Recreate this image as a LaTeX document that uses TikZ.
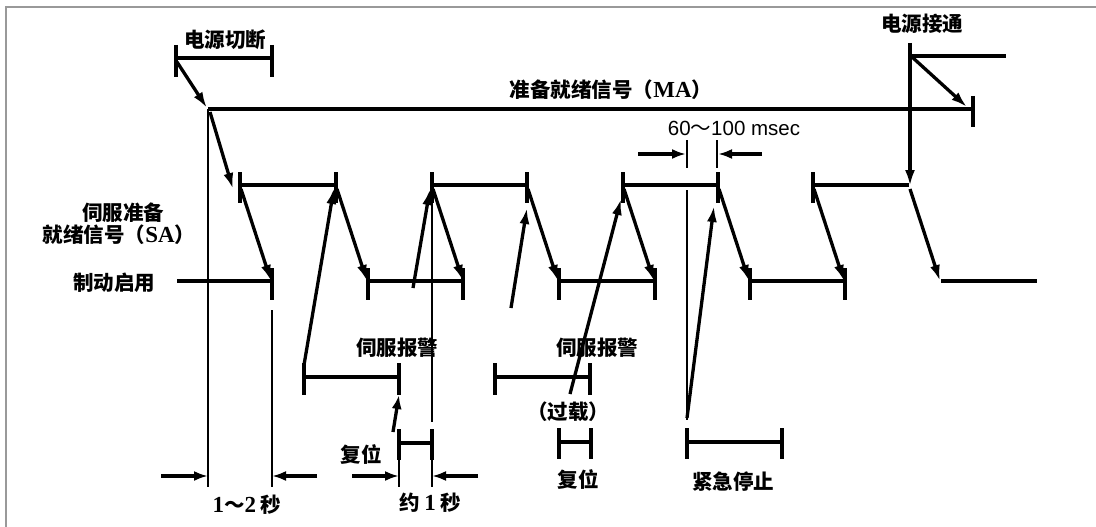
\documentclass[tikz,border=0pt]{standalone}
\usepackage{fontspec}
\newfontfamily\cjk{Noto Sans CJK SC}
\newfontfamily\tms[Scale=1.12]{Liberation Serif}
\newfontfamily\arl{Liberation Sans}
\usetikzlibrary{arrows.meta}
\newcommand\tb[1]{{\tms\bfseries #1}}
\tikzset{
  thk/.style={line width=3.3pt},
  thn/.style={line width=1.1pt},
  arr/.style={line width=3.3pt,-{Latex[length=16pt,width=10pt]}},
  arrs/.style={line width=3.3pt,-{Latex[length=14pt,width=10pt]}},
  lbl/.style={inner sep=0pt,font=\cjk\bfseries\fontsize{20.5}{23}\selectfont},
  frame/.style={draw=black!40,line width=1.5pt},
}
\begin{document}
\begin{tikzpicture}[x=1pt,y=-1pt]
\useasboundingbox (0,0) rectangle (1096,527);
\draw[frame] (6,527) -- (6,7) -- (1096,7);

% power off
\node[lbl] (poff) at (225,40) {电源切断};
\coordinate (pa) at (176,58); \coordinate (pb) at (272,58);
\draw[thk] (176,45) -- (176,77) (272,45) -- (272,77) (pa) -- (pb);
\draw[arr] (177,62) -- (207,108);

% MA
\node[lbl] (ma) at (611,90) {准备就绪信号（\tb{MA}）};
\coordinate (ma0) at (208,109); \coordinate (ma1) at (973,109);
\draw[thk] (ma0) -- (ma1);
\draw[thk] (973,96) -- (973,127);
\draw[arr] (210,112) -- (233,189);

% power on
\node[lbl] (pon) at (922,24) {电源接通};
\draw[thk] (910,56) -- (1006,56);
\draw[arr] (910,43) -- (910,186);
\draw[arr] (912,57) -- (967,107);

% thin verticals
\draw[thn] (208,109) -- (208,487);
\draw[thn] (272,310) -- (272,487);
\draw[thn] (432,190) -- (432,422);
\draw[thn] (399,460) -- (399,487);
\draw[thn] (432,460) -- (432,487);
\draw[thn] (687,190) -- (687,420);
\draw[thn] (687,140) -- (687,168);
\draw[thn] (717,140) -- (717,168);

% SA pulses
\foreach \a/\b in {240/336,432/527,623/718,813/909}{
  \draw[thk] (\a,185) -- (\b,185);
  \draw[thk] (\a,172) -- (\a,203);
}
\foreach \b in {336,527,718}{ \draw[thk] (\b,172) -- (\b,203); }

% brake lines
\draw[thk] (177,281) -- (272,281);
\foreach \a/\b in {368/463,559/655,750/845}{
  \draw[thk] (\a,281) -- (\b,281);
  \draw[thk] (\a,268) -- (\a,300);
  \draw[thk] (\b,268) -- (\b,300);
}
\draw[thk] (272,268) -- (272,300);
\draw[thk] (941,281) -- (1037,281);

% falling arrows
\foreach \a in {240,336,432,527,623,718,813,909}{
  \draw[arr] (\a+1,189) -- (\a+31,281);
}

% rising arrows
\draw[arr] (304,365) -- (334,188);
\draw[arr] (413,288) -- (430,189);
\draw[arr] (511,308) -- (527,208);
\draw[arr] (570,394) -- (621,199);
\draw[arr] (687,418) -- (714,206);
\draw[arrs] (393,432) -- (399,395);

% alarm brackets
\foreach \a/\b in {304/399,495/590}{
  \draw[thk] (\a,377) -- (\b,377) (\a,363) -- (\a,395) (\b,363) -- (\b,395);
}
% bottom brackets
\draw[thk] (399,443) -- (432,443) (399,429) -- (399,460) (432,429) -- (432,460);
\draw[thk] (559,442) -- (591,442) (559,428) -- (559,459) (591,428) -- (591,459);
\draw[thk] (687,442) -- (782,442) (687,428) -- (687,459) (782,428) -- (782,459);

% time arrows
\draw[arrs] (161,476) -- (208,476);
\draw[arrs] (317,476) -- (272,476);
\draw[arrs] (352,476) -- (399,476);
\draw[arrs] (478,476) -- (432,476);
\draw[arrs] (638,154) -- (686,154);
\draw[arrs] (762,154) -- (718,154);

% labels
\node[lbl] (sa1) at (123,213) {伺服准备};
\node[lbl] (sa2) at (119,235) {就绪信号（\tb{SA}）};
\node[lbl] (brk) at (114,283) {制动启用};
\node[lbl] (al1) at (397,348) {伺服报警};
\node[lbl] (al2) at (597,348) {伺服报警};
\node[lbl] (ovl) at (568,412) {（过载）};
\node[lbl] (rs1) at (361,455) {复位};
\node[lbl] (rs2) at (578,480) {复位};
\node[lbl] (est) at (733,482) {紧急停止};
\node[lbl] (t1) at (430,503) {约 \tb{1} 秒};
\node[lbl] (t12) at (247,505) {\tb{1}～\tb{2} 秒};
\node[inner sep=0pt,font=\arl\fontsize{20.5}{23}\selectfont] (ms) at (734,128) {60{\cjk ～}100 msec};
\end{tikzpicture}
\end{document}
